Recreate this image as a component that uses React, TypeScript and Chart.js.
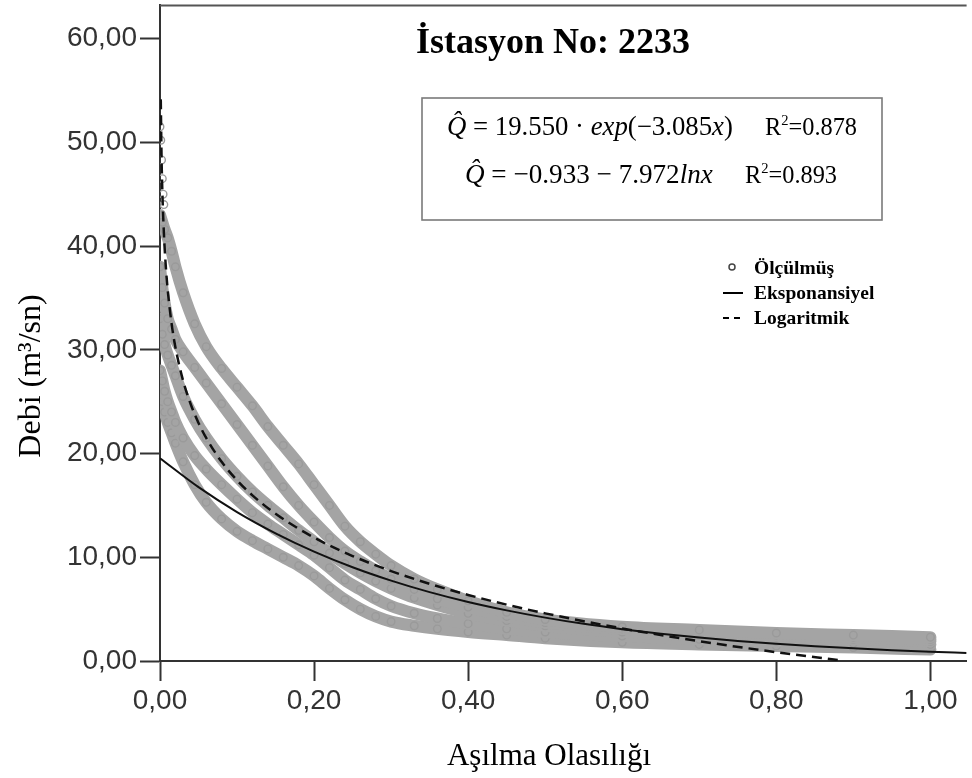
import React, { useEffect, useRef } from 'react';
import { Chart, registerables } from 'chart.js';

Chart.register(...registerables);

// ---------- data ----------
const X_TICKS = [0, 0.2, 0.4, 0.6, 0.8, 1.0];
const Y_TICKS = [0, 10, 20, 30, 40, 50, 60];

const TITLE = 'İstasyon No: 2233';
const X_TITLE = 'Aşılma Olasılığı';
const Y_TITLE = 'Debi (m³/sn)';
const LEGEND_LABELS = ['Ölçülmüş', 'Eksponansiyel', 'Logaritmik'];
const R2_VALUES = ['0.878', '0.893'];

const OBS_X = [0, 0.003, 0.006, 0.01, 0.015, 0.02, 0.03, 0.045, 0.06, 0.08, 0.10, 0.12, 0.14, 0.16, 0.18, 0.20, 0.22, 0.24, 0.26, 0.28, 0.30, 0.33, 0.36, 0.40, 0.45, 0.50, 0.60, 0.70, 0.80, 0.90, 1.00];
const OBS_BAND_1 = [43, 42.3, 41.6, 40.8, 39.5, 38, 35.5, 32.5, 30.3, 28.2, 26.4, 24.6, 22.6, 20.8, 19.0, 17.0, 15.0, 13.0, 11.5, 10.3, 9.2, 7.9, 6.9, 5.8, 4.7, 4.0, 3.3, 3.0, 2.7, 2.5, 2.3];
const OBS_BAND_2 = [38, 36, 34.5, 33, 32, 31, 29.8, 28.3, 26.8, 24.8, 22.8, 20.8, 18.8, 16.8, 15.0, 13.4, 11.9, 10.6, 9.6, 8.7, 7.9, 6.9, 6.0, 5.2, 4.3, 3.7, 3.1, 2.8, 2.5, 2.3, 2.1];
const OBS_BAND_3 = [33, 31.5, 30.5, 29.5, 28.5, 27.5, 25.5, 23.3, 21.5, 19.5, 17.8, 16.3, 15.0, 13.8, 12.6, 11.5, 10.4, 9.4, 8.5, 7.7, 7.0, 6.1, 5.4, 4.6, 3.9, 3.4, 2.8, 2.5, 2.3, 2.1, 1.9];
const OBS_BAND_4 = [28, 27, 26, 25, 24, 23, 21.5, 19.8, 18.5, 17.0, 15.6, 14.3, 13.2, 12.2, 11.2, 10.2, 9.0, 7.8, 6.9, 6.0, 5.3, 4.6, 4.1, 3.6, 3.1, 2.8, 2.4, 2.1, 1.9, 1.7, 1.6];
const OBS_BAND_5 = [26, 25, 24, 23, 22, 21, 19.2, 17.0, 15.3, 13.7, 12.5, 11.6, 10.8, 10.0, 9.2, 8.2, 7.0, 5.9, 5.0, 4.3, 3.8, 3.4, 3.1, 2.8, 2.5, 2.2, 1.8, 1.6, 1.45, 1.3, 1.1];
const OBS_BANDS = [OBS_BAND_1, OBS_BAND_2, OBS_BAND_3, OBS_BAND_4, OBS_BAND_5];

// isolated peak observations along the axis
const OBS_PEAK_X = [0, 0.001, 0.002, 0.003, 0.004, 0.005];
const OBS_PEAK_Q = [51.5, 50.2, 48.3, 46.5, 45.0, 44.0];

// exponential fit curve (read)
const EXP_X = [0, 0.05, 0.1, 0.15, 0.2, 0.25, 0.3, 0.35, 0.4, 0.45, 0.5, 0.55, 0.6, 0.65, 0.7, 0.75, 0.8, 0.85, 0.9, 0.95, 1.0, 1.047];
const EXP_Q = [19.55, 16.76, 14.36, 12.31, 10.55, 9.04, 7.75, 6.64, 5.69, 4.88, 4.18, 3.58, 3.07, 2.63, 2.26, 1.93, 1.66, 1.42, 1.22, 1.04, 0.89, 0.77];

// logarithmic fit curve (read)
const LOG_X = [0.001, 0.002, 0.003, 0.005, 0.0075, 0.01, 0.015, 0.02, 0.03, 0.04, 0.05, 0.06, 0.08, 0.1, 0.12, 0.15, 0.2, 0.25, 0.3, 0.35, 0.4, 0.45, 0.5, 0.6, 0.7, 0.8, 0.88];
const LOG_Q = [54.14, 48.61, 45.38, 41.31, 38.07, 35.78, 32.55, 30.25, 27.02, 24.73, 22.95, 21.50, 19.20, 17.42, 15.97, 14.19, 11.90, 10.12, 8.67, 7.44, 6.37, 5.43, 4.59, 3.14, 1.91, 0.85, 0.09];

// ---------- helpers ----------
const fmt = (v: number) => Number(v).toFixed(2).replace('.', ',');
const SERIF = '"Liberation Serif", "Times New Roman", serif';
const SANS = '"Liberation Sans", Arial, sans-serif';

type Run = [string, boolean];

function runsWidth(ctx: CanvasRenderingContext2D, runs: Run[], size: number) {
  let w = 0;
  for (const [t, it] of runs) {
    ctx.font = `${it ? 'italic ' : ''}${size}px ${SERIF}`;
    w += ctx.measureText(t).width;
  }
  return w;
}

function drawRunsFit(ctx: CanvasRenderingContext2D, runs: Run[], x: number, y: number, target: number) {
  const base = 26;
  const size = (base * target) / runsWidth(ctx, runs, base);
  let cx = x;
  for (const [t, it] of runs) {
    ctx.font = `${it ? 'italic ' : ''}${size}px ${SERIF}`;
    ctx.fillText(t, cx, y);
    cx += ctx.measureText(t).width;
  }
}

function drawR2Fit(ctx: CanvasRenderingContext2D, value: string, x: number, y: number, target: number) {
  const measure = (s: number) => {
    ctx.font = `${s}px ${SERIF}`;
    const a = ctx.measureText('R').width + ctx.measureText('=' + value).width;
    ctx.font = `${s * 0.6}px ${SERIF}`;
    return a + ctx.measureText('2').width;
  };
  const size = (25 * target) / measure(25);
  ctx.font = `${size}px ${SERIF}`;
  ctx.fillText('R', x, y);
  let cx = x + ctx.measureText('R').width;
  ctx.font = `${size * 0.6}px ${SERIF}`;
  ctx.fillText('2', cx, y - size * 0.4);
  cx += ctx.measureText('2').width;
  ctx.font = `${size}px ${SERIF}`;
  ctx.fillText('=' + value, cx, y);
}

const overlayPlugin = {
  id: 'overlay',
  beforeDraw(chart: any) {
    const ctx = chart.ctx;
    ctx.save();
    ctx.fillStyle = '#fff';
    ctx.fillRect(0, 0, chart.width, chart.height);
    ctx.restore();
  },
  afterDraw(chart: any) {
    const ctx: CanvasRenderingContext2D = chart.ctx;
    const ca = chart.chartArea;
    ctx.save();
    // top frame
    ctx.strokeStyle = '#555';
    ctx.lineWidth = 2;
    ctx.beginPath();
    ctx.moveTo(ca.left, ca.top);
    ctx.lineTo(ca.right, ca.top);
    ctx.stroke();

    ctx.fillStyle = '#000';
    ctx.textBaseline = 'alphabetic';
    ctx.textAlign = 'left';

    // title
    ctx.font = `bold 36px ${SERIF}`;
    ctx.fillText(TITLE, 416, 53);

    // equation box
    ctx.fillStyle = '#fff';
    ctx.fillRect(422, 98, 460, 122);
    ctx.strokeStyle = '#7a7a7a';
    ctx.lineWidth = 1.6;
    ctx.strokeRect(422, 98, 460, 122);
    ctx.fillStyle = '#000';
    drawRunsFit(ctx, [['Q\u0302', true], [' = 19.550 · ', false], ['exp', true], ['(−3.085', false], ['x', true], [')', false]], 447, 135, 286);
    drawR2Fit(ctx, R2_VALUES[0], 765, 135, 92);
    drawRunsFit(ctx, [['Q\u0302', true], [' = −0.933 − 7.972', false], ['lnx', true]], 465, 183, 248);
    drawR2Fit(ctx, R2_VALUES[1], 745, 183, 92);

    // legend
    ctx.strokeStyle = '#444';
    ctx.lineWidth = 1.5;
    ctx.beginPath();
    ctx.arc(732, 267, 3, 0, Math.PI * 2);
    ctx.stroke();
    ctx.strokeStyle = '#000';
    ctx.lineWidth = 2;
    ctx.beginPath();
    ctx.moveTo(723, 293);
    ctx.lineTo(743, 293);
    ctx.stroke();
    ctx.setLineDash([6, 5]);
    ctx.beginPath();
    ctx.moveTo(723, 318);
    ctx.lineTo(745, 318);
    ctx.stroke();
    ctx.setLineDash([]);
    ctx.font = `bold 19.5px ${SERIF}`;
    ctx.fillText(LEGEND_LABELS[0], 754, 274);
    ctx.fillText(LEGEND_LABELS[1], 754, 299);
    ctx.fillText(LEGEND_LABELS[2], 754, 324);

    // axis titles
    ctx.font = `31px ${SERIF}`;
    ctx.textAlign = 'center';
    ctx.fillText(X_TITLE, 549, 765);
    ctx.translate(40, 376);
    ctx.rotate(-Math.PI / 2);
    ctx.font = `32px ${SERIF}`;
    ctx.fillText(Y_TITLE, 0, 0);
    ctx.restore();
  },
};

export default function App() {
  const ref = useRef<HTMLCanvasElement | null>(null);

  useEffect(() => {
    if (!ref.current) return;
    const bandDatasets = OBS_BANDS.map((band, k) => ({
      label: k === 0 ? LEGEND_LABELS[0] : LEGEND_LABELS[0] + ' ' + (k + 1),
      data: OBS_X.map((x, i) => ({ x, y: band[i] })),
      showLine: true,
      borderColor: '#a4a4a4',
      borderWidth: 12,
      borderCapStyle: 'round',
      borderJoinStyle: 'round',
      cubicInterpolationMode: 'monotone',
      pointRadius: 3.8,
      pointBorderWidth: 1.4,
      pointBorderColor: '#9a9a9a',
      pointBackgroundColor: 'rgba(255,255,255,0)',
      order: 2,
    }));

    const peakDataset = {
      label: LEGEND_LABELS[0] + ' peak',
      data: OBS_PEAK_X.map((x, i) => ({ x, y: OBS_PEAK_Q[i] })),
      showLine: false,
      pointRadius: 3.8,
      pointBorderWidth: 1.4,
      pointBorderColor: '#9a9a9a',
      pointBackgroundColor: 'rgba(255,255,255,0)',
      order: 2,
    };

    const chart = new Chart(ref.current, {
      type: 'scatter',
      data: {
        datasets: [
          {
            label: LEGEND_LABELS[1],
            data: EXP_X.map((x, i) => ({ x, y: EXP_Q[i] })),
            showLine: true,
            borderColor: '#111',
            borderWidth: 2,
            pointRadius: 0,
            cubicInterpolationMode: 'monotone',
            order: 0,
          },
          {
            label: LEGEND_LABELS[2],
            data: LOG_X.map((x, i) => ({ x, y: LOG_Q[i] })),
            showLine: true,
            borderColor: '#111',
            borderWidth: 2.5,
            borderDash: [10, 6],
            pointRadius: 0,
            cubicInterpolationMode: 'monotone',
            order: 1,
          },
          ...bandDatasets,
          peakDataset,
        ] as any,
      },
      options: {
        animation: false,
        responsive: false,
        devicePixelRatio: 1,
        layout: { padding: { top: 1, left: 0, right: 0, bottom: 0 } },
        plugins: { legend: { display: false }, tooltip: { enabled: false }, title: { display: false } },
        scales: {
          x: {
            type: 'linear',
            min: 0,
            max: 1.047,
            afterBuildTicks: (s: any) => {
              s.ticks = X_TICKS.map((v) => ({ value: v }));
            },
            afterFit: (s: any) => {
              s.height = 117;
              s.paddingLeft = 0;
              s.paddingRight = 0;
            },
            grid: { drawOnChartArea: false, drawTicks: true, tickLength: 20, tickWidth: 2, tickColor: '#333' },
            border: { display: true, color: '#333', width: 2 },
            ticks: {
              callback: (v: any) => fmt(v),
              font: { family: SANS, size: 28 },
              color: '#333',
              padding: 3,
              maxRotation: 0,
              autoSkip: false,
            },
          },
          y: {
            type: 'linear',
            min: 0,
            max: 63.2,
            afterBuildTicks: (s: any) => {
              s.ticks = Y_TICKS.map((v) => ({ value: v }));
            },
            afterFit: (s: any) => {
              s.width = 160;
              s.paddingTop = 0;
              s.paddingBottom = 0;
            },
            grid: { drawOnChartArea: false, drawTicks: true, tickLength: 20, tickWidth: 2, tickColor: '#333' },
            border: { display: true, color: '#333', width: 2 },
            ticks: {
              callback: (v: any) => fmt(v),
              font: { family: SANS, size: 28 },
              color: '#333',
              padding: 3,
              autoSkip: false,
            },
          },
        },
      } as any,
      plugins: [overlayPlugin],
    });
    return () => chart.destroy();
  }, []);

  return (
    <div style={{ position: 'fixed', left: 0, top: 0, width: 972, height: 778, background: '#fff' }}>
      <canvas ref={ref} width={972} height={778} style={{ display: 'block', width: 972, height: 778 }} />
    </div>
  );
}
